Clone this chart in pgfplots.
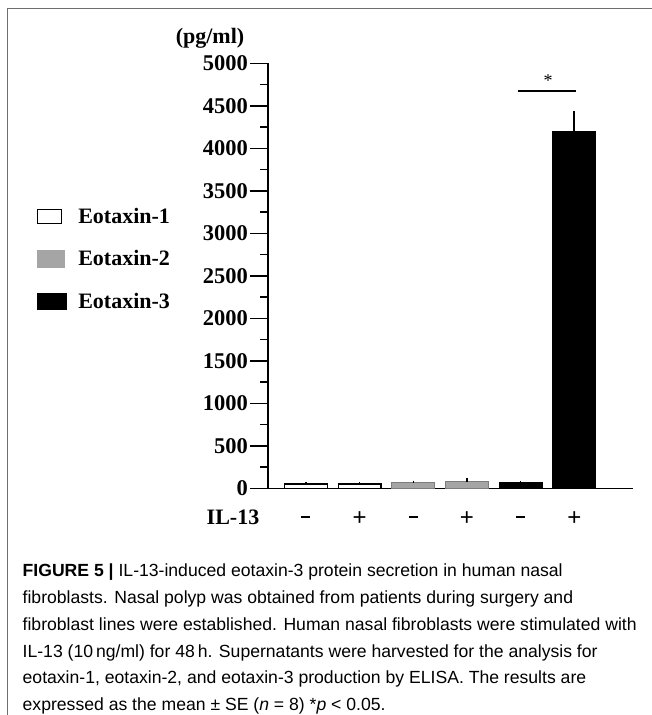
\documentclass[border=0pt]{standalone}
\usepackage{fontspec}
\setmainfont{Liberation Serif}
\newfontfamily\capfont{Liberation Sans}
\usepackage{pgfplots}
\pgfplotsset{compat=1.18}
\definecolor{eogray}{RGB}{165,165,165}
\definecolor{eograyedge}{RGB}{125,125,125}
\definecolor{framegray}{RGB}{110,110,110}

\begin{document}
\begin{tikzpicture}[x=1pt,y=1pt]
\useasboundingbox (0,0) rectangle (652,-715);
% figure frame (left and top only)
\draw[framegray, line width=1.6pt] (7.5,-715) -- (7.5,-8.5) -- (652,-8.5);

\begin{axis}[
  at={(268pt,-488.3pt)}, anchor=south west,
  scale only axis, width=365pt, height=425pt,
  xmin=0.292, xmax=7.094, ymin=0, ymax=5000,
  axis lines*=left,
  axis line style={line width=1.6pt},
  xtick=\empty,
  ytick={0,500,...,5000},
  minor y tick num=1,
  tick align=outside,
  major tick length=18pt, minor tick length=8pt,
  tick style={line width=1.6pt, black},
  yticklabel style={font=\bfseries\fontsize{22.5}{22.5}\selectfont, inner sep=2pt},
  /pgf/number format/assume math mode=true,
  /pgf/number format/1000 sep={},
  scaled y ticks=false,
  clip=false,
  ybar, bar width=0.8,
  legend style={at={(rel axis cs:0,1)}, anchor=north west,
    xshift=-231pt, yshift=-145pt, draw=none, fill=none,
    inner sep=0pt, row sep=25pt, column sep=11pt,
    font=\bfseries\fontsize{22}{22}\selectfont, nodes={inner sep=0pt}},
  legend cell align=left,
]
% Eotaxin-1
\addplot[fill=white, draw=black, line width=1.3pt, bar shift=0pt,
  legend image code/.code={\draw[fill=white, draw=black, line width=1.2pt] (0pt,-7pt) rectangle (24pt,7pt);},
  error bars/.cd, y dir=plus, y explicit, error mark=none,
  error bar style={line width=1.4pt, black}]
  coordinates {(1,50) +- (0,20) (2,50) +- (0,20)};
\addlegendentry{Eotaxin-1}
% Eotaxin-2
\addplot[fill=eogray, draw=eograyedge, line width=1pt, bar shift=0pt,
  legend image code/.code={\fill[eogray] (0pt,-8.2pt) rectangle (26.6pt,8.2pt);},
  error bars/.cd, y dir=plus, y explicit, error mark=none,
  error bar style={line width=1.4pt, black}]
  coordinates {(3,66) +- (0,25) (4,78) +- (0,40)};
\addlegendentry{Eotaxin-2}
% Eotaxin-3
\addplot[fill=black, draw=black, line width=1pt, bar shift=0pt,
  legend image code/.code={\fill[black] (0pt,-8.3pt) rectangle (29pt,8.3pt);},
  error bars/.cd, y dir=plus, y explicit, error mark=none,
  error bar style={line width=1.6pt, black}]
  coordinates {(5,70) +- (0,15) (6,4195) +- (0,245)};
\addlegendentry{Eotaxin-3}

% significance
\draw[line width=1.5pt] (axis cs:4.945,4674) -- (axis cs:6.03,4674);
\node[font=\fontsize{18}{18}\selectfont] at (axis cs:5.51,4800) {*};

% IL-13 treatment row
\node[inner sep=0pt, yshift=-28.4pt] at (axis cs:1,0) {\rule{9pt}{2.4pt}};
\node[inner sep=0pt, font=\capfont\fontsize{24}{24}\selectfont, yshift=-30.7pt] at (axis cs:2,0) {+};
\node[inner sep=0pt, yshift=-28.4pt] at (axis cs:3,0) {\rule{9pt}{2.4pt}};
\node[inner sep=0pt, font=\capfont\fontsize{24}{24}\selectfont, yshift=-30.7pt] at (axis cs:4,0) {+};
\node[inner sep=0pt, yshift=-28.4pt] at (axis cs:5,0) {\rule{9pt}{2.4pt}};
\node[inner sep=0pt, font=\capfont\fontsize{24}{24}\selectfont, yshift=-30.7pt] at (axis cs:6,0) {+};
\end{axis}

\node[font=\bfseries\fontsize{22}{22}\selectfont] at (210,-38) {(pg/ml)};
\node[font=\bfseries\fontsize{22}{22}\selectfont] at (233,-517) {IL-13};

\node[anchor=north west, align=left, inner sep=0pt,
  font=\capfont\fontsize{17.6}{26.7}\selectfont] at (22.5,-564) {%
  \textbf{FIGURE 5 |} IL-13-induced eotaxin-3 protein secretion in human nasal\\
  fibroblasts. Nasal polyp was obtained from patients during surgery and\\
  fibroblast lines were established. Human nasal fibroblasts were stimulated with\\
  IL-13 (10\,ng/ml) for 48\,h. Supernatants were harvested for the analysis for\\
  eotaxin-1, eotaxin-2, and eotaxin-3 production by ELISA. The results are\\
  expressed as the mean ± SE (\textit{n} = 8) *\textit{p} < 0.05.};
\end{tikzpicture}
\end{document}
